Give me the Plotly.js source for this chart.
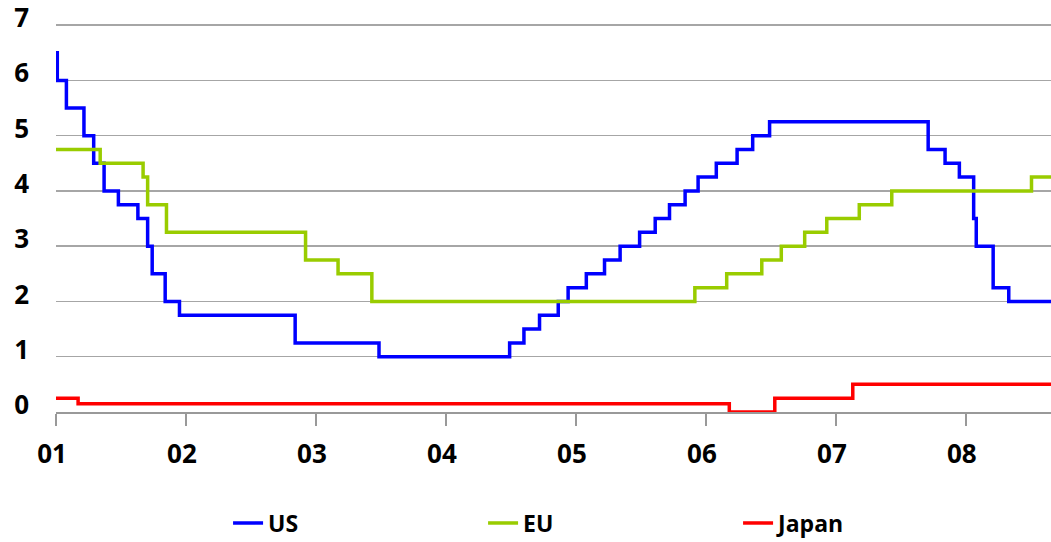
<!DOCTYPE html>
<html>
<head>
<meta charset="utf-8">
<script src="https://cdn.plot.ly/plotly-3.0.1.min.js"></script>
<style>html,body{margin:0;padding:0;background:#fff;}#chart{width:1051px;height:542px;}</style>
</head>
<body>
<div id="chart"></div>
<script>
// Policy rate step dates (decimal years) and levels (%)
const usDates = [2001.0, 2001.01, 2001.08, 2001.215, 2001.29, 2001.37, 2001.48, 2001.63, 2001.705, 2001.74, 2001.84, 2001.95, 2002.84, 2003.485, 2004.49, 2004.60, 2004.72, 2004.864, 2004.94, 2005.08, 2005.22, 2005.34, 2005.49, 2005.61, 2005.72, 2005.84, 2005.94, 2006.08, 2006.24, 2006.36, 2006.49, 2007.71, 2007.84, 2007.95, 2008.06, 2008.08, 2008.21, 2008.33, 2008.66];
const usRates = [6.5, 6.0, 5.5, 5.0, 4.5, 4.0, 3.75, 3.5, 3.0, 2.5, 2.0, 1.75, 1.25, 1.0, 1.25, 1.5, 1.75, 2.0, 2.25, 2.5, 2.75, 3.0, 3.25, 3.5, 3.75, 4.0, 4.25, 4.5, 4.75, 5.0, 5.25, 4.75, 4.5, 4.25, 3.5, 3.0, 2.25, 2.0, 2.0];

const euDates = [2001.0, 2001.34, 2001.67, 2001.705, 2001.85, 2002.92, 2003.17, 2003.43, 2005.915, 2006.16, 2006.43, 2006.58, 2006.76, 2006.93, 2007.18, 2007.43, 2008.505, 2008.66];
const euRates = [4.75, 4.5, 4.25, 3.75, 3.25, 2.75, 2.5, 2.0, 2.25, 2.5, 2.75, 3.0, 3.25, 3.5, 3.75, 4.0, 4.25, 4.25];

const jpDates = [2001.0, 2001.17, 2006.18, 2006.53, 2007.13, 2008.66];
const jpRates = [0.25, 0.15, 0.0, 0.25, 0.5, 0.5];

const yearTicks = [2001, 2002, 2003, 2004, 2005, 2006, 2007, 2008];
const yearLabels = ['01', '02', '03', '04', '05', '06', '07', '08'];
const rateTicks = [0, 1, 2, 3, 4, 5, 6, 7];
const seriesNames = ['US', 'EU', 'Japan'];

const FONT = '"Open Sans", "DejaVu Sans", sans-serif';

const traces = [
  {x: usDates, y: usRates, name: seriesNames[0], mode: 'lines', line: {shape: 'hv', color: '#0000ff', width: 3.5}},
  {x: euDates, y: euRates, name: seriesNames[1], mode: 'lines', line: {shape: 'hv', color: '#99cc00', width: 3.5}},
  {x: jpDates, y: jpRates, name: seriesNames[2], mode: 'lines', line: {shape: 'hv', color: '#ff0000', width: 3.5}}
];

const layout = {
  width: 1051, height: 542,
  margin: {l: 56, r: 0, t: 24, b: 130},
  paper_bgcolor: '#ffffff', plot_bgcolor: '#ffffff',
  font: {family: FONT, size: 24, color: '#000000', weight: 700},
  showlegend: true,
  legend: {
    orientation: 'h', xref: 'container', yref: 'container',
    x: 0.217, y: 0.035, xanchor: 'left', yanchor: 'middle',
    entrywidth: 210, entrywidthmode: 'pixels',
    font: {family: FONT, size: 23, color: '#000', weight: 700},
    bgcolor: 'rgba(0,0,0,0)'
  },
  xaxis: {
    range: [2001, 2008.655], tickmode: 'array', tickvals: yearTicks, ticktext: yearLabels,
    showgrid: false, zeroline: false,
    showline: true, linecolor: '#999999', linewidth: 2,
    ticks: 'outside', ticklen: 12, tickwidth: 2, tickcolor: '#999999',
    tickfont: {family: FONT, size: 26, color: '#000', weight: 700},
    ticklabelstandoff: 6, ticklabelshift: -4
  },
  yaxis: {
    range: [0, 7.02], tickmode: 'array', tickvals: rateTicks,
    showgrid: true, gridcolor: '#a6a6a6', gridwidth: 1.5,
    zeroline: false, showline: false, ticks: '',
    tickfont: {family: FONT, size: 26, color: '#000', weight: 700},
    ticklabelstandoff: 26, ticklabelshift: -7, ticklabeloverflow: 'allow'
  }
};

Plotly.newPlot('chart', traces, layout, {displayModeBar: false, staticPlot: true});
</script>
</body>
</html>
